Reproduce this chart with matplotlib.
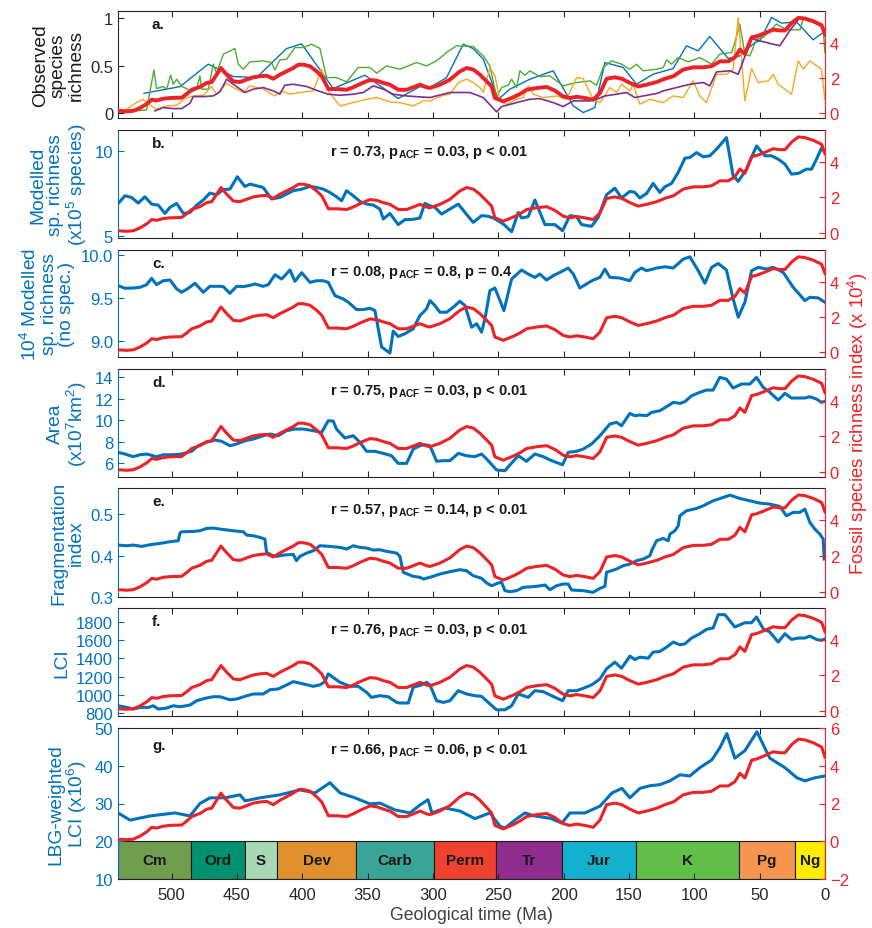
import matplotlib.pyplot as plt
import numpy as np

plt.rcParams['font.family'] = 'Liberation Sans'
plt.rcParams['mathtext.fontset'] = 'custom'
plt.rcParams['mathtext.rm'] = 'Liberation Sans'
plt.rcParams['mathtext.bf'] = 'Liberation Sans:bold'
plt.rcParams['mathtext.it'] = 'Liberation Sans:italic'

BLUE = '#0072BD'
RED = '#EC2227'
DARK = '#262626'

# fossil species richness index (x 10^4), same curve in every panel
fossil_ma = [541, 534.4, 529.3, 524.2, 519, 515.2, 511.4, 506.3, 501.2, 492.3, 488.4, 484.6, 478.3, 473.1,
             469.3, 462.2, 457.8, 452.7, 447.7, 442.5, 437.5, 432.4, 427.2, 422.2, 417.1, 412, 406.9, 403,
             399.2, 394.1, 389, 385.1, 380, 373.7, 366, 361, 355.8, 348.2, 343.1, 338, 332.9, 326.5, 320.2,
             315.1, 309.9, 304.8, 302.3, 294.6, 287, 279.3, 274.2, 269.1, 264, 258.9, 255.1, 252.6, 246.2,
             238.6, 233.4, 228.3, 220.7, 213, 206.7, 200.3, 195.2, 190.1, 183.7, 177.4, 172.2, 167.1, 160.7,
             155.6, 149.3, 142.9, 136.5, 128.8, 122.5, 116.1, 108.5, 100.8, 93.2, 86.8, 80.4, 74, 68.9, 65.1,
             61.3, 56.1, 52.3, 47.3, 39.6, 34.5, 30.6, 25.5, 20.4, 15.4, 9, 2.6, 0]
fossil = [0.11, 0.08, 0.11, 0.27, 0.5, 0.74, 0.7, 0.8, 0.84, 0.86, 1.07, 1.31, 1.47, 1.7,
          1.75, 2.55, 2.17, 1.79, 1.75, 1.89, 2.02, 2.08, 2.11, 1.94, 2.17, 2.36, 2.55, 2.74,
          2.74, 2.65, 2.36, 2.08, 1.35, 1.35, 1.31, 1.45, 1.64, 1.87, 1.83, 1.7, 1.6, 1.31, 1.31,
          1.45, 1.6, 1.45, 1.41, 1.6, 1.89, 2.36, 2.55, 2.46, 2.17, 1.79, 1.5, 0.84, 0.65,
          0.88, 1.07, 1.31, 1.41, 1.47, 1.26, 0.93, 0.84, 0.91, 0.84, 0.74, 1.12, 1.94, 2.02,
          1.94, 1.7, 1.5, 1.6, 1.75, 1.94, 2.08, 2.46, 2.59, 2.59, 2.65, 2.93, 2.93, 3.16, 3.6,
          3.35, 4.3, 4.36, 4.5, 4.74, 4.69, 4.69, 5.12, 5.41, 5.37, 5.22, 4.99, 4.46]

# a. observed species richness (normalised)
obs_blue_ma = [521.1, 493.6, 471.9, 452.8, 435, 412, 400.5, 376.3, 352.1, 326.6, 310, 302.3, 289.6, 276.8,
               269.2, 261.5, 250, 241.1, 225.8, 208, 192.6, 185, 176.1, 168.4, 154.4, 144.2, 131.5, 116.2,
               106, 97.1, 88.1, 74.1, 65.2, 53.7, 49.9, 40.9, 33.3, 21.8, 9.1, 1.4]
obs_blue = [0.21, 0.28, 0.516, 0.386, 0.375, 0.68, 0.73, 0.26, 0.4, 0.155, 0.28, 0.27, 0.375, 0.726,
            0.68, 0.568, 0.147, 0.253, 0.358, 0.446, 0.077, 0.007, 0.06, 0.533, 0.481, 0.305, 0.41, 0.47,
            0.709, 0.656, 0.807, 0.576, 0.603, 0.744, 0.761, 1.007, 0.947, 0.961, 0.772, 0.849]
obs_green_ma = [526.8, 519.1, 513.5, 511.5, 506.4, 503.8, 500.7, 498.7, 496.1, 492.3, 488.5, 484.7, 480.8,
                478.3, 477, 471.9, 468.1, 465.6, 460.4, 451.5, 449, 445.1, 440.1, 429.9, 423.5, 420.9, 417.1,
                412, 405.6, 399.2, 392.9, 386.5, 381.4, 373.8, 366.1, 357.2, 348.2, 343.1, 335.5, 325.3,
                312.6, 304.9, 302.3, 297.2, 289.6, 281.9, 269.2, 261.5, 256.4, 251.3, 247.5, 242.4, 239.8,
                236, 233.5, 229.6, 225.8, 218.2, 210.5, 200.3, 190.1, 179.9, 174.8, 169.7, 163.3, 155.7,
                149.3, 144.2, 139.1, 128.9, 123.8, 121.2, 117.4, 112.3, 104.7, 95.8, 86.8, 80.5, 71.5, 69,
                65.2, 61.3, 57.5, 52.4, 47.3, 37.1, 29.5, 19.2, 16.7, 9.1, 1.4, 0.1]
obs_green = [0.025, 0.035, 0.456, 0.26, 0.281, 0.253, 0.4, 0.305, 0.358, 0.281, 0.26, 0.225, 0.253,
             0.393, 0.253, 0.253, 0.516, 0.421, 0.621, 0.681, 0.516, 0.463, 0.54, 0.551, 0.533, 0.456, 0.561,
             0.568, 0.691, 0.691, 0.726, 0.681, 0.375, 0.375, 0.33, 0.481, 0.481, 0.421, 0.498, 0.463,
             0.533, 0.498, 0.516, 0.551, 0.639, 0.709, 0.702, 0.603, 0.498, 0.165, 0.27, 0.295, 0.358,
             0.27, 0.446, 0.4, 0.446, 0.386, 0.393, 0.288, 0.323, 0.34, 0.295, 0.481, 0.551, 0.516,
             0.463, 0.516, 0.446, 0.463, 0.481, 0.561, 0.516, 0.586, 0.54, 0.586, 0.516, 0.621, 0.639, 0.744,
             0.937, 0.621, 0.603, 0.779, 0.797, 0.937, 0.877, 0.877, 0.989, 0.955, 0.902, 0.639]
obs_orange_ma = [540.8, 534.4, 526.8, 521.7, 517.8, 511.5, 503.8, 496.1, 489.8, 483.4, 475.7, 469.4, 465.6,
                 457.9, 452.8, 445.1, 440.1, 429.9, 421, 415.8, 409.4, 401.8, 391.6, 385.2, 380.1, 371.2,
                 361, 350.8, 343.1, 332.9, 325.3, 315.1, 307.5, 302.3, 292.1, 287, 280.6, 274.3, 269.2,
                 264.1, 261.5, 256.4, 252.6, 248.7, 243.7, 236, 230.9, 227.1, 223.3, 215.6, 205.4, 197.8,
                 190.1, 185, 177.4, 172.2, 164.6, 159.5, 155.7, 149.3, 146.8, 141.7, 134, 123.8, 116.2,
                 108.5, 100.9, 95.8, 90.7, 83, 75.4, 70.3, 66.4, 61.3, 56.2, 51.1, 43.5, 39.6, 35.8, 25.6,
                 20.5, 16.7, 11.6, 2.7, 0.1]
obs_orange = [0.014, 0.042, 0.112, 0.147, 0.095, 0.042, 0.077, 0.084, 0.154, 0.182, 0.189, 0.281, 0.2,
              0.316, 0.27, 0.218, 0.288, 0.253, 0.182, 0.235, 0.2, 0.218, 0.235, 0.463, 0.235, 0.077,
              0.112, 0.147, 0.165, 0.119, 0.112, 0.077, 0.13, 0.13, 0.189, 0.2, 0.323, 0.358, 0.323,
              0.27, 0.218, 0.481, 0.393, 0.13, 0.095, 0.147, 0.165, 0.288, 0.2, 0.165, 0.182, 0.147,
              0.375, 0.365, 0.147, 0.112, 0.27, 0.218, 0.305, 0.235, 0.305, 0.095, 0.147, 0.112, 0.182,
              0.165, 0.34, 0.182, 0.112, 0.41, 0.41, 0.463, 1.007, 0.13, 0.47, 0.323, 0.34, 0.41, 0.305, 0.2,
              0.551, 0.463, 0.551, 0.463, 0.147]
obs_purple_ma = [512.7, 506.4, 498.7, 492.3, 485.9, 483.4, 475.7, 468.1, 463, 457.9, 452.8, 443.9, 437.5,
                 429.9, 422.2, 417.1, 413.3, 406.9, 396.7, 387.8, 380.1, 371.2, 361, 353.3, 345.7, 338,
                 330.4, 320.2, 310, 302.3, 287, 271.7, 261.5, 251.3, 247.5, 236, 225.8, 218.2, 208, 200.3,
                 192.6, 179.9, 174.8, 168.4, 159.5, 151.9, 145.5, 139.1, 128.9, 123.8, 113.6, 103.4, 93.2,
                 88.1, 83, 72.8, 66.4, 56.2, 49.9, 34.6, 27, 19.3, 9.1, 1.4, 0.1]
obs_purple = [0.025, 0.06, 0.049, 0.049, 0.105, 0.175, 0.175, 0.182, 0.225, 0.358, 0.305, 0.218, 0.253,
              0.27, 0.235, 0.2, 0.295, 0.305, 0.281, 0.235, 0.2, 0.189, 0.2, 0.218, 0.288, 0.253,
              0.2, 0.182, 0.172, 0.165, 0.218, 0.218, 0.165, 0.014, 0.07, 0.112, 0.147, 0.154, 0.112, 0.07,
              0.13, 0.13, 0.147, 0.182, 0.2, 0.218, 0.165, 0.182, 0.207, 0.235, 0.27, 0.305, 0.323,
              0.288, 0.435, 0.446, 0.41, 0.786, 0.761, 0.709, 0.867, 1.007, 0.972, 0.902, 0.849]

# b. modelled species richness (x10^5 species)
rich_ma = [540.8, 535.7, 530.6, 525.5, 520.4, 515.3, 510.2, 505.1, 501.2, 496.1, 491, 485.9, 480.8, 475.7,
           470.7, 465.6, 460.5, 455.4, 449.7, 443.9, 440, 434.9, 429.9, 423.5, 417.1, 412, 406.9, 400.5,
           394.1, 389, 383.9, 378.9, 373.8, 369.9, 366.1, 361, 355.9, 350.8, 345.7, 340.6, 338, 332.9,
           326.6, 321.5, 315.1, 310, 306.2, 302.3, 298.5, 293.4, 287, 280.6, 275.5, 269.2, 262.8, 257.7,
           253.8, 246.2, 239.8, 234.7, 232.2, 227.1, 222, 214.3, 206.7, 200.8, 195.2, 190.1, 186.3, 178.6,
           173.5, 167.2, 160.8, 155.7, 149.3, 145.5, 141.7, 136.5, 131.5, 126.4, 122.5, 117.4, 112.3,
           107.2, 103.4, 98.3, 93.2, 88.1, 83, 75.4, 70.3, 66.4, 60.1, 52.4, 46, 40.9, 35.8, 30.7, 25.6,
           20.5, 14.2, 10.3, 6.5, 2.7, 0.1]
rich = [6.92, 7.37, 7.27, 6.94, 7.31, 6.88, 6.82, 6.33, 6.69, 6.92, 6.33, 6.39, 6.82, 7.12,
        7.53, 7.43, 7.73, 7.76, 8.49, 7.92, 8.06, 7.96, 7.86, 7.18, 7.27, 7.47, 7.67, 7.76,
        7.92, 7.86, 7.76, 7.57, 7.31, 7.08, 7.67, 7.37, 7.04, 6.88, 6.82, 6.59, 6.0, 6.33,
        5.67, 5.96, 5.98, 6.06, 6.92, 6.78, 6.69, 6.29, 6.59, 6.88, 6.39, 5.8, 6.2, 6.16,
        6.06, 5.71, 5.25, 6.39, 6.06, 6.14, 7.12, 5.67, 5.67, 5.31, 6.2, 6.14, 5.67, 5.57,
        6.1, 7.43, 7.82, 7.24, 7.63, 7.57, 7.24, 7.51, 8.1, 7.57, 7.9, 8.1, 8.75,
        9.59, 9.63, 9.92, 9.67, 9.73, 10.12, 10.8, 8.55, 8.22, 8.94, 10.31, 9.73, 9.73, 9.53, 9.24, 8.65,
        8.69, 8.94, 8.94, 9.53, 10.18, 9.92]

# c. modelled richness without speciation
nospec_ma = [540.8, 535.7, 529.3, 524.2, 519.1, 515.3, 511.5, 506.4, 501.2, 496.1, 492.3, 487.2, 482.1,
             475.7, 470.7, 463, 460.4, 455.4, 450.2, 445.1, 440, 436.2, 429.9, 426, 420.9, 415.8, 409.4,
             405.6, 400.5, 394.1, 389, 383.9, 380.1, 375, 368.6, 364.8, 358.4, 353.3, 348.2, 344.4, 339.3,
             332.9, 330.4, 326.6, 321.5, 315.1, 310, 304.9, 302.3, 298.5, 294.7, 289.6, 284.5, 279.4, 275.5,
             270.4, 266.6, 262.8, 260.2, 256.4, 252.6, 248.7, 245.7, 239.8, 232.2, 227.1, 222, 218.2, 213.1,
             208, 202.9, 196.5, 192.6, 187.6, 182.5, 177.4, 172.2, 168.4, 164.6, 157, 149.3, 145.5, 140.4,
             136.5, 128.9, 122.5, 116.2, 108.5, 103.4, 97, 91.9, 86.8, 81.7, 75.4, 70.3, 66.4, 61.3, 56.2,
             51.1, 44.7, 39.6, 32, 24.3, 15.4, 11.6, 5.2, 0.1]
nospec = [9.643, 9.613, 9.616, 9.624, 9.655, 9.729, 9.655, 9.701, 9.709, 9.605, 9.566, 9.613, 9.671,
          9.566, 9.636, 9.636, 9.632, 9.554, 9.636, 9.632, 9.647, 9.663, 9.636, 9.655, 9.771, 9.721, 9.826,
          9.694, 9.795, 9.682, 9.701, 9.701, 9.682, 9.527, 9.488, 9.45, 9.364, 9.364, 9.38, 9.352, 8.927,
          8.857, 9.113, 9.05, 9.081, 9.14, 9.294, 9.372, 9.469, 9.411, 9.333, 9.333, 9.391, 9.461, 9.411,
          9.159, 9.198, 9.101, 9.256, 9.585, 9.616, 9.469, 9.352, 9.721, 9.826, 9.779, 9.74, 9.779, 9.709,
          9.76, 9.798, 9.849, 9.779, 9.616, 9.663, 9.709, 9.74, 9.837, 9.74, 9.733, 9.701, 9.798, 9.849,
          9.818, 9.849, 9.864, 9.849, 9.953, 9.98, 9.818, 9.671, 9.857, 9.903, 9.826, 9.488, 9.275, 9.45,
          9.818, 9.857, 9.837, 9.857, 9.798, 9.624, 9.469, 9.508, 9.5, 9.45]

# d. area (x10^7 km2)
area_ma = [540.8, 535.7, 529.3, 524.2, 519.1, 511.5, 506.4, 498.7, 492.3, 484.7, 479.6, 473.2, 466.8,
           461.7, 455.4, 450.2, 443.9, 437.5, 429.9, 424.7, 418.4, 412, 405.6, 399.2, 391.6, 385.2, 380.1,
           376.3, 373.8, 367.4, 361, 355.9, 350.8, 344.4, 338.1, 331.7, 326.6, 320.2, 315.1, 310, 306.2,
           302.3, 297.2, 292.1, 287, 280.6, 274.3, 267.9, 262.8, 257.7, 251.3, 244.9, 239.8, 234.7, 228.4,
           222, 215.6, 209.2, 200.8, 196.5, 190.1, 185, 178.6, 172.2, 164.6, 159.5, 155.7, 149.3, 145.5,
           141.7, 136.5, 132.7, 126.4, 121.2, 116.1, 111, 107.2, 102.1, 95.8, 90.7, 85.6, 80.5, 75.4, 70.3,
           63.9, 57.5, 52.4, 47.3, 42.2, 35.8, 30.7, 25.6, 19.2, 15.4, 11.6, 6.5, 2.7, 0.1]
area = [6.99, 6.84, 6.59, 6.77, 6.84, 6.59, 6.77, 6.77, 6.84, 7.09, 7.61, 7.93, 8.14,
        8.02, 7.61, 7.77, 8.07, 8.23, 8.54, 8.7, 8.54, 9.01, 9.16, 9.16, 9.01, 8.85, 9.94,
        9.9, 9.16, 8.33, 8.54, 7.93, 7.09, 7.09, 6.9, 6.68, 5.97, 5.97, 7.3, 7.61, 7.71,
        7.61, 6.16, 6.22, 6.22, 6.9, 6.68, 6.59, 6.84, 6.22, 5.35, 5.29, 6.0, 6.68, 6.16,
        6.84, 6.59, 6.22, 5.84, 6.99, 7.09, 7.3, 7.77, 8.54, 9.63, 9.79, 9.47, 10.62, 10.4,
        10.47, 10.4, 10.71, 10.87, 11.24, 11.65, 11.55, 11.71, 12.26, 12.58, 12.79, 12.79, 13.97, 13.81, 12.98,
        13.35, 13.35, 13.97, 13.04, 12.58, 11.86, 12.48, 12.05, 12.05, 12.05, 12.17, 11.95, 11.65, 11.74]

# e. fragmentation index
frag_ma = [540.8, 534.4, 529.3, 522.9, 516.5, 508.9, 501.2, 494.9, 493.6, 492.3, 483.4, 478.3, 473.2, 468.1,
           463, 452.8, 445.1, 442.6, 437.5, 432.4, 428.6, 427.3, 423.5, 419.6, 414.5, 406.9, 404.4, 401.8,
           396.7, 391.6, 386.5, 378.9, 371.2, 366.1, 361, 355.9, 350.8, 345.7, 340.6, 335.5, 327.8, 325.3,
           322.7, 315.1, 310, 307.4, 302.3, 294.7, 287, 279.4, 274.3, 269.2, 262.8, 258.9, 255.1, 250,
           247.5, 244.9, 241.1, 236, 230.9, 220.7, 214.3, 210.5, 205.4, 200.3, 196.5, 193.9, 185, 177.4,
           172.2, 168.4, 167.2, 159.5, 154.4, 149.3, 144.2, 139.1, 134, 132.7, 128.9, 123.8, 120, 118.7,
           114.9, 112.3, 111.1, 106, 98.3, 93.2, 85.6, 77.9, 72.8, 65.2, 57.5, 49.9, 42.2, 34.6, 29.5,
           24.4, 19.3, 15.4, 11.6, 7.8, 4, 1.4, 0.6]
frag = [0.4253, 0.4237, 0.4253, 0.4221, 0.4261, 0.4293, 0.4334, 0.4357, 0.4542, 0.4574, 0.4582, 0.4598,
        0.4655, 0.4663, 0.4639, 0.4598, 0.4574, 0.4494, 0.4478, 0.4438, 0.4398, 0.4076, 0.4012, 0.398,
        0.4012, 0.4028, 0.3876, 0.398, 0.406, 0.4116, 0.4237, 0.4221, 0.4197, 0.4157, 0.4237, 0.4197,
        0.4181, 0.4133, 0.414, 0.4101, 0.406, 0.398, 0.3595, 0.3499, 0.3475, 0.3434, 0.3475, 0.3554,
        0.361, 0.3659, 0.3634, 0.3514, 0.3451, 0.3337, 0.3273, 0.3337, 0.3354, 0.3153, 0.3128, 0.3153,
        0.3233, 0.3257, 0.3289, 0.3177, 0.3273, 0.3313, 0.3313, 0.3169, 0.3153, 0.3112, 0.3209, 0.3257,
        0.3595, 0.3675, 0.3755, 0.3795, 0.3876, 0.3916, 0.3996, 0.4116, 0.4357, 0.4414, 0.4357, 0.4518,
        0.4598, 0.4719, 0.4959, 0.508, 0.5137, 0.52, 0.5321, 0.5402, 0.5458, 0.5378, 0.5321, 0.5265,
        0.5241, 0.5185, 0.4959, 0.5041, 0.5041, 0.512, 0.48, 0.4639, 0.4518, 0.4398, 0.3916]

# f. LCI
lci_ma = [540.8, 534.4, 529.3, 524.2, 517.8, 514, 510.2, 503.8, 498.7, 493.6, 485.9, 480.8, 474.5, 468.1,
          463, 455.4, 450.2, 443.9, 437.5, 429.9, 424.7, 418.4, 412, 406.9, 399.2, 391.6, 386.5, 382.7,
          380.1, 371.2, 363.5, 357.2, 350.8, 347, 340.6, 334.2, 327.8, 325.3, 318.9, 315.1, 308.7, 304.9,
          302.3, 297.2, 292.1, 287, 280.6, 274.3, 267.9, 262.8, 257.7, 251.3, 244.9, 239.8, 234.7, 227.1,
          222, 215.6, 209.2, 200.8, 196.5, 190.1, 185, 178.6, 172.2, 167.2, 160.8, 155.7, 149.3, 145.5,
          141.7, 135.3, 131.5, 126.4, 121.2, 116.1, 111, 107.2, 102.1, 95.8, 90.7, 85.6, 81.7, 76.6, 69,
          61.3, 56.2, 52.4, 47.3, 42.2, 35.8, 30.7, 25.6, 20.5, 15.4, 11.6, 6.5, 2.7, 0.1]
lci = [880, 862, 844, 862, 862, 880, 844, 855, 880, 869, 888, 935, 961, 979,
       979, 946, 954, 983, 1009, 1009, 1056, 1064, 1108, 1144, 1119, 1093, 1108, 1144,
       1229, 1137, 1093, 1093, 1027, 972, 990, 979, 917, 910, 910, 1082, 1108, 1137,
       1108, 935, 917, 935, 1045, 1009, 990, 983, 917, 836, 836, 880, 1009, 972,
       1045, 1034, 990, 935, 1045, 1045, 1071, 1108, 1174, 1284, 1357, 1291, 1423, 1386,
       1412, 1401, 1467, 1474, 1522, 1577, 1547, 1558, 1621, 1668, 1716, 1731, 1877, 1877, 1742,
       1789, 1789, 1852, 1723, 1687, 1577, 1668, 1606, 1621, 1621, 1643, 1606, 1595, 1613]

# g. LBG-weighted LCI (x10^6)
lbg_ma = [541, 531.8, 516.5, 497.4, 485.9, 478.3, 470.6, 459.1, 447.7, 443.8, 432.4, 417.1, 401.7, 390.3,
          378.8, 371.1, 359.7, 348.2, 340.5, 329.1, 317.6, 309.9, 303.8, 300.8, 290.8, 279.3, 267.9, 256.4,
          248.7, 244.9, 237.3, 229.6, 222, 210.5, 201.3, 195.2, 183.7, 172.2, 163, 155.4, 149.3, 141.7,
          134, 126.3, 118.7, 111, 103.4, 95.7, 86.5, 80.4, 75.1, 69, 61.3, 52.1, 42.2, 30.7, 21.5, 15.4,
          7.8, 0.1]
lbg = [27.5, 25.6, 26.7, 27.5, 26.7, 30, 31.5, 31.5, 32.3, 30.7, 31.5, 32.3, 33.6, 32.8,
       35.5, 32.8, 31.5, 29.9, 30.1, 28.3, 27.5, 29.6, 31, 27.5, 28.8, 28, 26, 27.5,
       24, 23.5, 25.6, 27.5, 26.7, 26.1, 24.8, 27.5, 27.5, 29.3, 32.8, 34, 31.5, 34,
       34.7, 35, 36, 37.6, 37.3, 39.5, 41.6, 44.8, 48.5, 42, 44, 49, 42, 39.5, 36.8, 36,
       36.8, 37.3]

# geological periods
period_names = ['Cm', 'Ord', 'S', 'Dev', 'Carb', 'Perm', 'Tr', 'Jur', 'K', 'Pg', 'Ng']
period_start = [541, 485.4, 443.8, 419.2, 358.9, 298.9, 251.9, 201.3, 145, 66, 23.03]
period_end = [485.4, 443.8, 419.2, 358.9, 298.9, 251.9, 201.3, 145, 66, 23.03, 0]
period_colors = ['#6E9E4E', '#00926E', '#A9D9B4', '#E1902F', '#3AA597', '#EF4130',
                 '#8F2C8E', '#14B1CE', '#5FBF46', '#F6954F', '#FFED00']

L, W = 118 / 872, 707 / 872
rows = [(12, 119), (131, 239), (251, 358), (370, 478), (489, 598), (609, 717), (729, 880)]
TICK = 12
LABEL = 13.8

fig = plt.figure(figsize=(8.72, 9.29))


def makeAxes(i, leftColor, ylim, yticks, rylim=(-0.3, 5.8), ryticks=(0, 2, 4)):
    top, bot = rows[i]
    ax = fig.add_axes([L, 1 - bot / 929, W, (bot - top) / 929])
    axr = ax.twinx()
    ax.set_xlim(541, 0)
    ax.set_xticks(np.arange(500, -1, -50))
    ax.set_ylim(*ylim)
    ax.set_yticks(yticks)
    axr.set_ylim(*rylim)
    axr.set_yticks(ryticks)
    ax.tick_params(axis='x', direction='in', top=True, bottom=True, length=4, colors=DARK,
                   labelbottom=(i == 6), labelsize=TICK, width=0.8, pad=6)
    ax.tick_params(axis='y', direction='in', length=4, colors=leftColor, labelsize=TICK, width=0.8)
    axr.tick_params(axis='y', direction='in', length=4, colors=RED, labelsize=TICK, width=0.8)
    for s in ['top', 'bottom']:
        ax.spines[s].set_color(DARK)
        axr.spines[s].set_visible(False)
    ax.spines['left'].set_color(leftColor)
    ax.spines['right'].set_visible(False)
    axr.spines['left'].set_visible(False)
    axr.spines['right'].set_color(RED)
    for s in ax.spines.values():
        s.set_linewidth(0.8)
    axr.spines['right'].set_linewidth(0.8)
    return ax, axr


def addText(ax, letter, stats, ypos=0.88, spos=0.8):
    ax.text(0.048, ypos, letter, transform=ax.transAxes, fontsize=11, fontweight='bold',
            ha='left', va='center', color='#1a1a1a')
    if stats:
        ax.text(0.300, spos, stats, transform=ax.transAxes, fontsize=10.5, fontweight='bold',
                ha='left', va='center', color='#1a1a1a')


def statText(r, pacf, p):
    return 'r = ' + r + ', p$_{\\mathbf{ACF}}$ = ' + pacf + ', p ' + p


# a.
ax, axr = makeAxes(0, DARK, (-0.05, 1.075), [0, 0.5, 1])
ax.set_yticklabels(['0', '0.5', '1'])
ax.plot(obs_blue_ma, obs_blue, color=BLUE, lw=1.0)
ax.plot(obs_green_ma, obs_green, color='#4DAA32', lw=1.0)
ax.plot(obs_orange_ma, obs_orange, color='#F5A81C', lw=1.0)
ax.plot(obs_purple_ma, obs_purple, color='#7E2F8E', lw=1.2)
axr.plot(fossil_ma, fossil, color=RED, lw=2.8)
ax.set_ylabel('Observed\nspecies\nrichness', fontsize=LABEL, color='#1a1a1a', linespacing=1.05)
addText(ax, 'a.', None)

panels = [
    (1, rich_ma, rich, (4.88, 11.25), [5, 10], 'Modelled\nsp. richness\n(x10$^5$ species)', 'b.',
     statText('0.73', '0.03', '< 0.01')),
    (2, nospec_ma, nospec, (8.81, 10.06), [9, 9.5, 10], '10$^4$ Modelled\nsp. richness\n(no spec.)', 'c.',
     statText('0.08', '0.8', '= 0.4')),
    (3, area_ma, area, (4.7, 14.75), [6, 8, 10, 12, 14], 'Area\n(x10$^7$km$^2$)', 'd.',
     statText('0.75', '0.03', '< 0.01')),
    (4, frag_ma, frag, (0.3, 0.563), [0.3, 0.4, 0.5], 'Fragmentation\nindex', 'e.',
     statText('0.57', '0.14', '< 0.01')),
    (5, lci_ma, lci, (768, 1950), [800, 1000, 1200, 1400, 1600, 1800], 'LCI', 'f.',
     statText('0.76', '0.03', '< 0.01')),
]

for i, xs, ys, ylim, yt, lab, letter, stats in panels:
    ax, axr = makeAxes(i, BLUE, ylim, yt)
    ax.plot(xs, ys, color=BLUE, lw=2.2)
    axr.plot(fossil_ma, fossil, color=RED, lw=2.2)
    ax.set_ylabel(lab, fontsize=LABEL, color=BLUE, linespacing=1.05)
    addText(ax, letter, stats)

# g.
ax, axr = makeAxes(6, BLUE, (10, 50), [10, 20, 30, 40, 50], rylim=(-2, 6), ryticks=[-2, 0, 2, 4, 6])
widths = [s - e for s, e in zip(period_start, period_end)]
centers = [(s + e) / 2 for s, e in zip(period_start, period_end)]
ax.bar(centers, 10, width=widths, bottom=10, color=period_colors, edgecolor='#1a1a1a', linewidth=0.8)
for c, n in zip(centers, period_names):
    ax.text(c, 15, n, ha='center', va='center', fontsize=11, fontweight='bold', color='#1a1a1a')
ax.plot(lbg_ma, lbg, color=BLUE, lw=2.2)
axr.plot(fossil_ma, fossil, color=RED, lw=2.2)
ax.set_ylabel('LBG-weighted\nLCI (x10$^6$)', fontsize=LABEL, color=BLUE, linespacing=1.05)
addText(ax, 'g.', statText('0.66', '0.06', '< 0.01'), ypos=0.89, spos=0.86)
ax.set_xlabel('Geological time (Ma)', fontsize=12.7, color='#404040', labelpad=3)

fig.text(0.984, 0.544, 'Fossil species richness index (x 10$^4$)', rotation=90, color=RED,
         ha='center', va='center', fontsize=13.4)

fig.savefig('out.png', dpi=100)
